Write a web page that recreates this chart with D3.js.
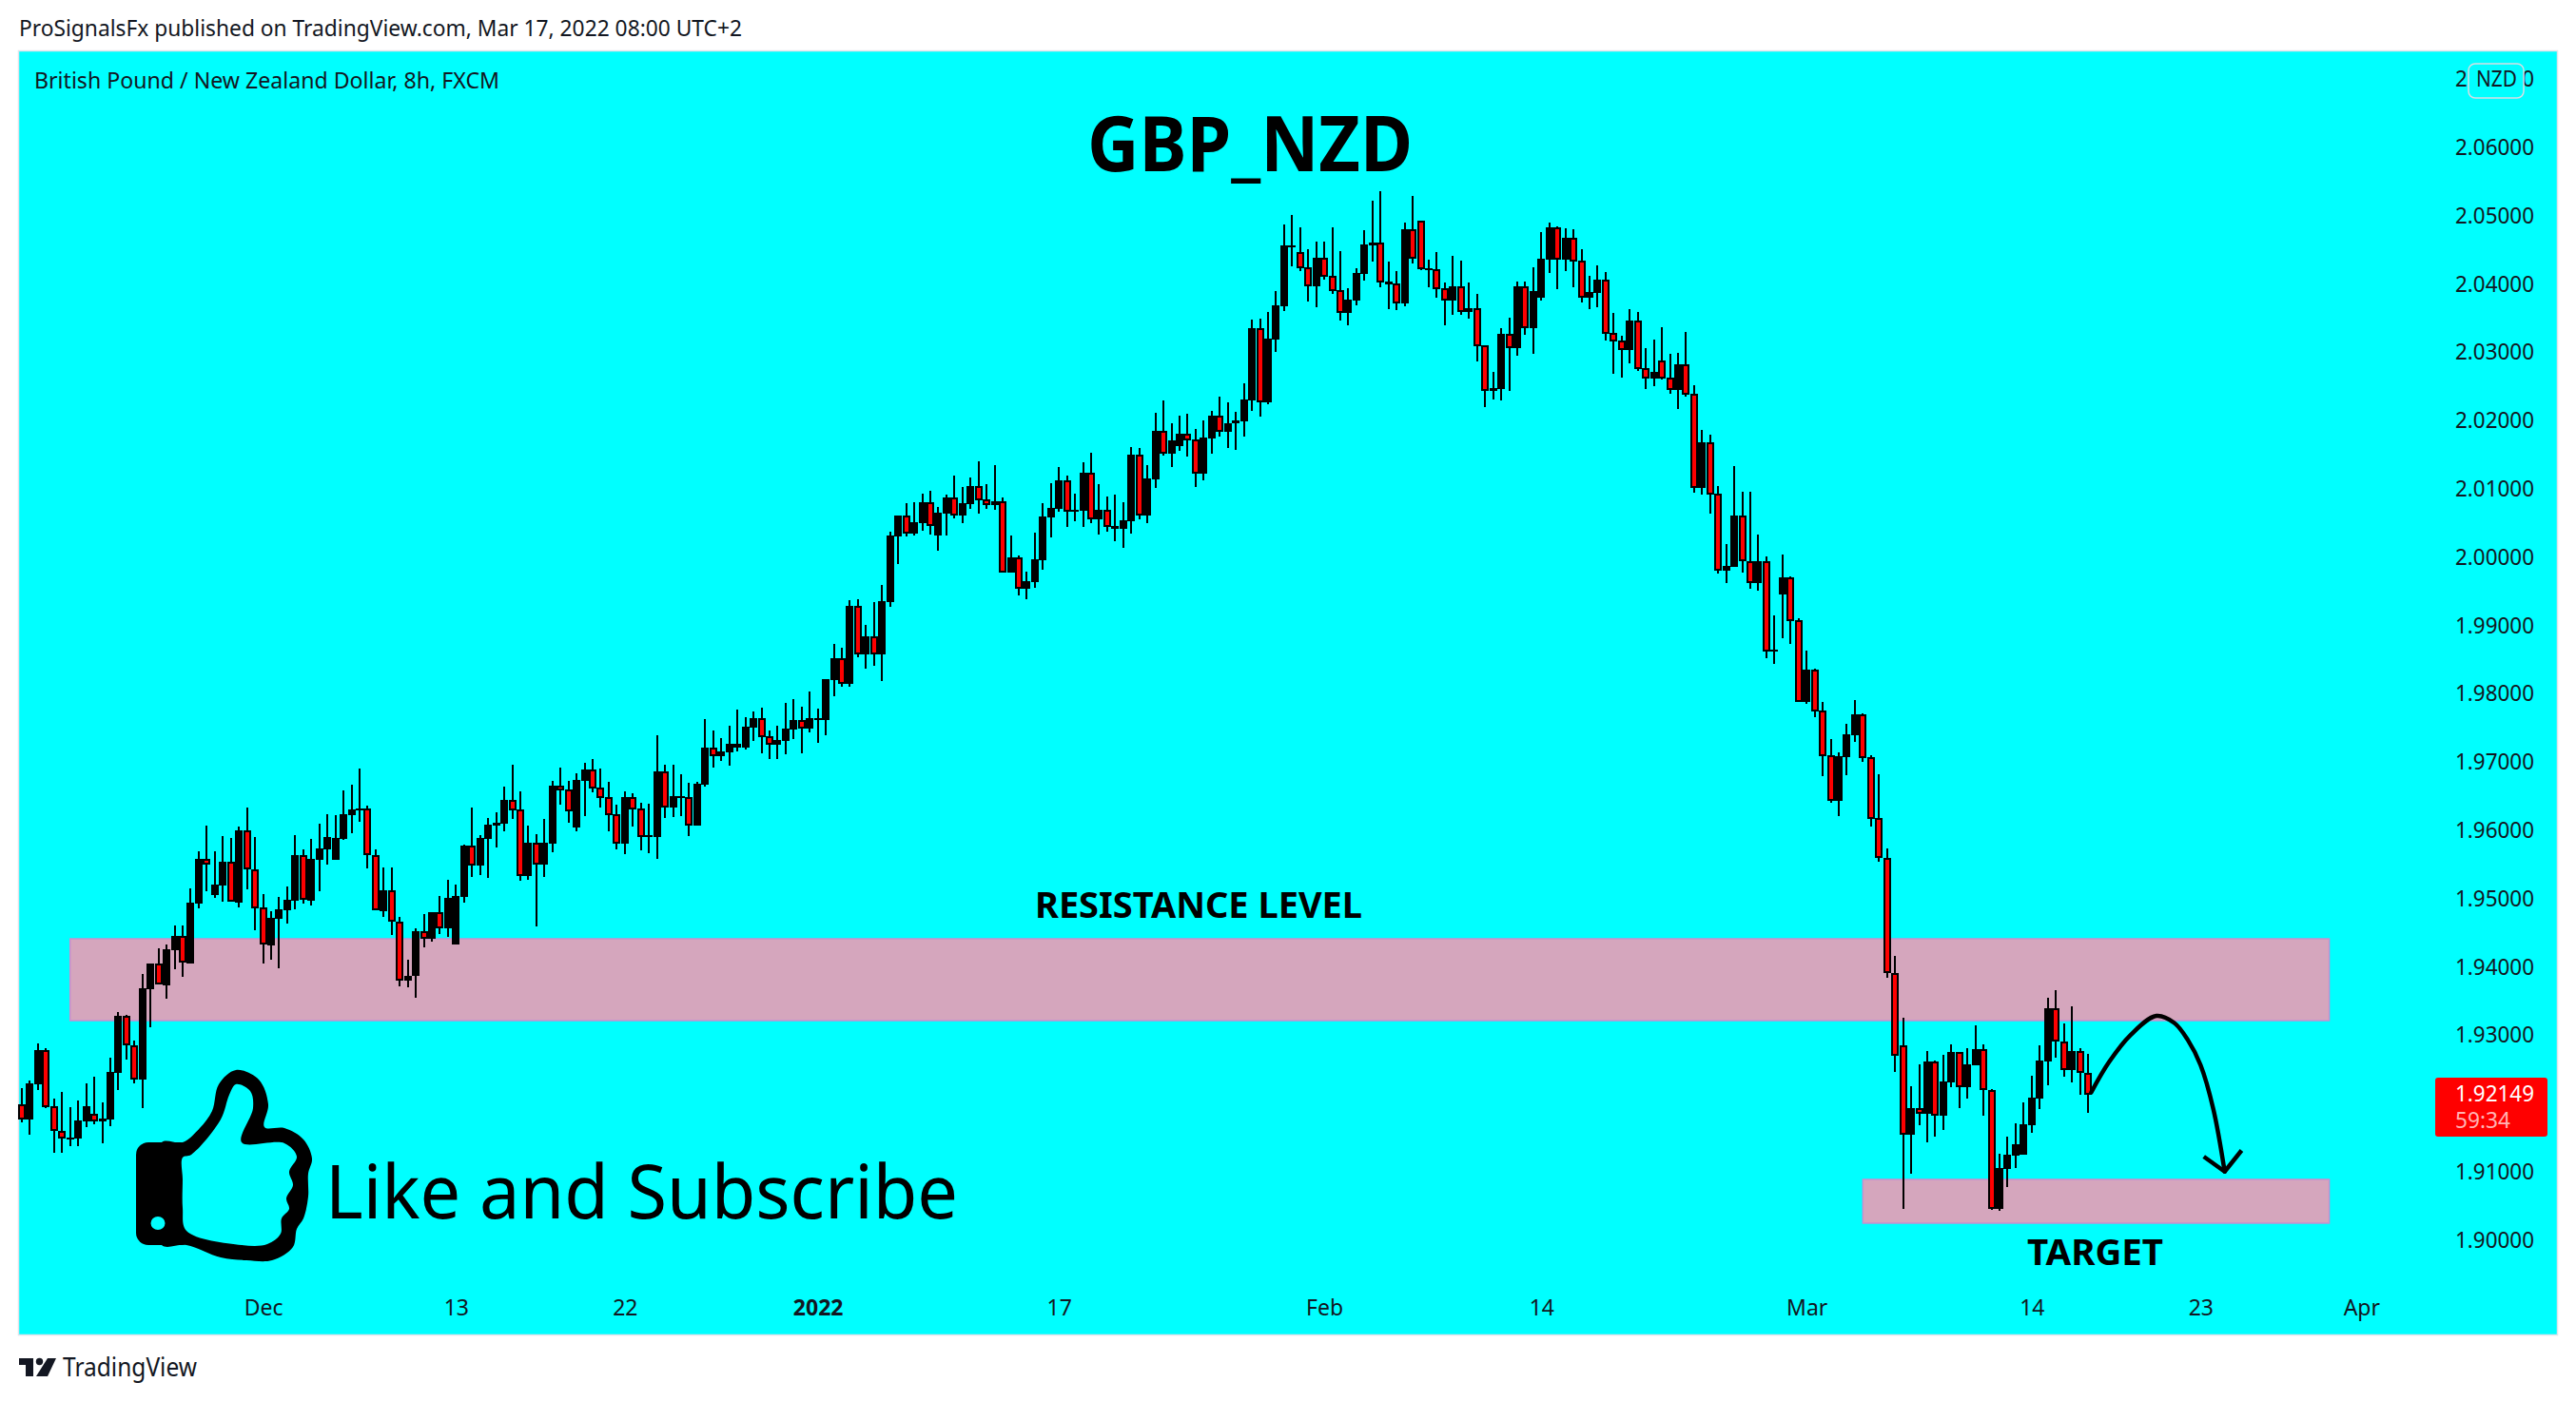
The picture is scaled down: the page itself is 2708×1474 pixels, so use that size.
<!DOCTYPE html>
<html><head><meta charset="utf-8">
<script src="https://cdn.jsdelivr.net/npm/d3@7"></script>
<style>html,body{margin:0;padding:0;background:#fff}svg{display:block}</style></head>
<body><svg id="c" width="2708" height="1474"></svg>
<script>
const opens=[
1.9201,1.9178,1.9230,1.9280,1.9198,1.9162,1.9150,1.9150,1.9175,1.9187,
1.9175,1.9178,1.9247,1.9330,1.9287,1.9237,1.9369,1.9407,1.9375,1.9426,
1.9447,1.9407,1.9494,1.9560,1.9507,1.9521,1.9556,1.9496,1.9602,1.9545,
1.9489,1.9433,1.9472,1.9485,1.9498,1.9565,1.9498,1.9558,1.9574,1.9558,
1.9589,1.9624,1.9632,1.9634,1.9565,1.9483,1.9514,1.9468,1.9381,1.9389,
1.9454,1.9443,1.9482,1.9458,1.9434,1.9504,1.9579,1.9550,1.9589,1.9609,
1.9611,1.9646,1.9632,1.9535,1.9584,1.9551,1.9582,1.9667,1.9661,1.9606,
1.9674,1.9690,1.9664,1.9650,1.9625,1.9582,1.9650,1.9634,1.9592,1.9592,
1.9688,1.9635,1.9649,1.9650,1.9609,1.9668,1.9723,1.9710,1.9716,1.9723,
1.9723,1.9752,1.9766,1.9739,1.9727,1.9732,1.9749,1.9763,1.9751,1.9763,
1.9763,1.9822,1.9854,1.9816,1.9930,1.9859,1.9886,1.9859,1.9936,2.0032,
2.0063,2.0036,2.0051,2.0082,2.0033,2.0065,2.0089,2.0063,2.0079,2.0106,
2.0086,2.0078,2.0083,1.9979,2.0001,1.9955,1.9965,1.9997,2.0060,2.0072,
2.0114,2.0068,2.0069,2.0125,2.0057,2.0071,2.0043,2.0043,2.0054,2.0152,
2.0063,2.0115,2.0187,2.0153,2.0164,2.0182,2.0174,2.0124,2.0175,2.0209,
2.0185,2.0197,2.0200,2.0231,2.0337,2.0228,2.0320,2.0369,2.0455,2.0448,
2.0426,2.0398,2.0440,2.0414,2.0393,2.0359,2.0377,2.0416,2.0458,2.0462,
2.0401,2.0402,2.0373,2.0482,2.0494,2.0422,2.0423,2.0395,2.0377,2.0398,
2.0361,2.0366,2.0312,2.0245,2.0248,2.0329,2.0307,2.0398,2.0337,2.0382,
2.0437,2.0485,2.0437,2.0469,2.0436,2.0382,2.0388,2.0408,2.0330,2.0319,
2.0305,2.0348,2.0278,2.0263,2.0289,2.0264,2.0246,2.0284,2.0241,2.0103,
2.0170,2.0095,1.9982,1.9987,2.0063,1.9996,1.9964,1.9996,1.9863,1.9947,
1.9972,1.9909,1.9790,1.9837,1.9777,1.9712,1.9645,1.9709,1.9741,1.9771,
1.9709,1.9620,1.9561,1.9393,1.9287,1.9156,1.9195,1.9187,1.9263,1.9184,
1.9233,1.9277,1.9226,1.9258,1.9281,1.9222,1.9047,1.9106,1.9125,1.9127,
1.9170,1.9209,1.9263,1.9341,1.9292,1.9251,1.9279,1.9247];
const highs=[
1.9224,1.9235,1.9290,1.9283,1.9209,1.9219,1.9196,1.9206,1.9231,1.9241,
1.9203,1.9269,1.9336,1.9331,1.9294,1.9391,1.9407,1.9429,1.9434,1.9462,
1.9462,1.9517,1.9571,1.9609,1.9571,1.9593,1.9590,1.9607,1.9635,1.9592,
1.9508,1.9483,1.9504,1.9519,1.9594,1.9574,1.9589,1.9611,1.9625,1.9624,
1.9660,1.9669,1.9692,1.9638,1.9574,1.9547,1.9547,1.9475,1.9412,1.9458,
1.9479,1.9482,1.9505,1.9529,1.9522,1.9581,1.9635,1.9594,1.9620,1.9628,
1.9666,1.9698,1.9659,1.9609,1.9596,1.9618,1.9674,1.9694,1.9674,1.9685,
1.9701,1.9706,1.9692,1.9673,1.9639,1.9659,1.9656,1.9642,1.9641,1.9741,
1.9698,1.9698,1.9684,1.9671,1.9673,1.9765,1.9748,1.9737,1.9755,1.9778,
1.9767,1.9776,1.9781,1.9748,1.9755,1.9788,1.9794,1.9783,1.9805,1.9780,
1.9823,1.9875,1.9869,1.9939,1.9940,1.9902,1.9936,1.9961,2.0039,2.0063,
2.0081,2.0082,2.0095,2.0099,2.0075,2.0093,2.0121,2.0104,2.0118,2.0142,
2.0108,2.0136,2.0089,2.0033,2.0004,1.9980,2.0037,2.0081,2.0110,2.0134,
2.0121,2.0095,2.0140,2.0154,2.0108,2.0090,2.0093,2.0082,2.0163,2.0161,
2.0136,2.0213,2.0231,2.0198,2.0209,2.0211,2.0189,2.0202,2.0216,2.0237,
2.0228,2.0214,2.0256,2.0350,2.0351,2.0361,2.0391,2.0489,2.0503,2.0485,
2.0452,2.0464,2.0464,2.0485,2.0450,2.0395,2.0425,2.0480,2.0523,2.0537,
2.0434,2.0420,2.0491,2.0530,2.0494,2.0437,2.0448,2.0404,2.0443,2.0436,
2.0404,2.0387,2.0312,2.0273,2.0337,2.0352,2.0405,2.0405,2.0426,2.0477,
2.0492,2.0486,2.0483,2.0482,2.0452,2.0414,2.0429,2.0419,2.0359,2.0326,
2.0365,2.0361,2.0307,2.0320,2.0338,2.0299,2.0301,2.0331,2.0253,2.0188,
2.0181,2.0106,2.0021,2.0135,2.0097,2.0097,2.0035,2.0003,1.9916,2.0005,
1.9973,1.9912,1.9865,1.9838,1.9790,1.9735,1.9716,1.9758,1.9792,1.9773,
1.9712,1.9684,1.9575,1.9418,1.9327,1.9227,1.9259,1.9279,1.9265,1.9273,
1.9288,1.9277,1.9283,1.9316,1.9288,1.9223,1.9128,1.9153,1.9173,1.9203,
1.9242,1.9287,1.9356,1.9368,1.9319,1.9344,1.9283,1.9274];
const lows=[
1.9174,1.9156,1.9222,1.9195,1.9129,1.9129,1.9139,1.9139,1.9167,1.9171,
1.9143,1.9168,1.9222,1.9266,1.9231,1.9195,1.9313,1.9376,1.9355,1.9398,
1.9387,1.9407,1.9487,1.9512,1.9503,1.9497,1.9497,1.9489,1.9515,1.9455,
1.9407,1.9412,1.9400,1.9465,1.9486,1.9494,1.9492,1.9512,1.9551,1.9558,
1.9587,1.9597,1.9614,1.9546,1.9485,1.9475,1.9448,1.9373,1.9372,1.9357,
1.9430,1.9439,1.9450,1.9446,1.9434,1.9496,1.9533,1.9536,1.9532,1.9577,
1.9600,1.9618,1.9528,1.9529,1.9461,1.9533,1.9570,1.9639,1.9613,1.9600,
1.9622,1.9657,1.9635,1.9600,1.9574,1.9567,1.9607,1.9572,1.9568,1.9560,
1.9620,1.9621,1.9622,1.9593,1.9609,1.9666,1.9694,1.9703,1.9696,1.9717,
1.9720,1.9732,1.9715,1.9706,1.9706,1.9713,1.9735,1.9715,1.9745,1.9730,
1.9741,1.9798,1.9812,1.9812,1.9855,1.9838,1.9843,1.9820,1.9929,1.9992,
2.0032,2.0033,2.0040,2.0035,2.0011,2.0033,2.0058,2.0051,2.0072,2.0065,
2.0072,2.0071,1.9979,1.9979,1.9945,1.9940,1.9957,1.9983,2.0030,2.0068,
2.0046,2.0054,2.0046,2.0051,2.0035,2.0039,2.0025,2.0015,2.0036,2.0057,
2.0051,2.0103,2.0150,2.0134,2.0157,2.0149,2.0104,2.0114,2.0153,2.0178,
2.0161,2.0159,2.0178,2.0216,2.0207,2.0226,2.0302,2.0362,2.0427,2.0420,
2.0376,2.0368,2.0408,2.0387,2.0348,2.0341,2.0370,2.0407,2.0434,2.0397,
2.0365,2.0363,2.0369,2.0432,2.0422,2.0397,2.0382,2.0341,2.0356,2.0356,
2.0351,2.0288,2.0221,2.0233,2.0231,2.0245,2.0297,2.0327,2.0299,2.0377,
2.0418,2.0394,2.0420,2.0397,2.0375,2.0365,2.0368,2.0319,2.0270,2.0264,
2.0285,2.0274,2.0248,2.0252,2.0262,2.0241,2.0218,2.0237,2.0096,2.0093,
2.0065,1.9978,1.9964,1.9987,1.9979,1.9955,1.9953,1.9854,1.9845,1.9883,
1.9875,1.9790,1.9787,1.9767,1.9681,1.9642,1.9622,1.9682,1.9731,1.9702,
1.9607,1.9556,1.9386,1.9248,1.9047,1.9099,1.9170,1.9145,1.9153,1.9163,
1.9226,1.9195,1.9209,1.9258,1.9184,1.9046,1.9045,1.9079,1.9107,1.9127,
1.9159,1.9194,1.9228,1.9269,1.9241,1.9233,1.9215,1.9188];
const closes=[
1.9178,1.9231,1.9280,1.9196,1.9162,1.9150,1.9152,1.9177,1.9198,1.9175,
1.9180,1.9248,1.9330,1.9287,1.9237,1.9370,1.9407,1.9376,1.9428,1.9447,
1.9408,1.9496,1.9560,1.9551,1.9522,1.9556,1.9497,1.9602,1.9545,1.9487,
1.9434,1.9474,1.9486,1.9500,1.9565,1.9500,1.9560,1.9575,1.9592,1.9590,
1.9625,1.9632,1.9634,1.9565,1.9485,1.9514,1.9468,1.9381,1.9389,1.9454,
1.9443,1.9482,1.9458,1.9503,1.9505,1.9579,1.9550,1.9590,1.9610,1.9613,
1.9646,1.9631,1.9535,1.9584,1.9551,1.9584,1.9667,1.9660,1.9629,1.9675,
1.9690,1.9663,1.9649,1.9624,1.9582,1.9650,1.9632,1.9592,1.9594,1.9688,
1.9635,1.9652,1.9652,1.9609,1.9670,1.9723,1.9710,1.9717,1.9728,1.9728,
1.9753,1.9766,1.9738,1.9727,1.9734,1.9751,1.9763,1.9751,1.9766,1.9766,
1.9823,1.9854,1.9816,1.9930,1.9859,1.9886,1.9859,1.9937,2.0033,2.0063,
2.0036,2.0053,2.0082,2.0047,2.0067,2.0089,2.0063,2.0081,2.0106,2.0085,
2.0078,2.0083,1.9979,2.0001,1.9955,1.9966,1.9998,2.0061,2.0074,2.0114,
2.0068,2.0071,2.0125,2.0057,2.0071,2.0046,2.0047,2.0056,2.0152,2.0063,
2.0117,2.0187,2.0153,2.0173,2.0182,2.0173,2.0124,2.0177,2.0209,2.0185,
2.0198,2.0202,2.0233,2.0337,2.0228,2.0322,2.0370,2.0458,2.0458,2.0425,
2.0398,2.0440,2.0412,2.0391,2.0359,2.0379,2.0418,2.0459,2.0462,2.0404,
2.0405,2.0373,2.0482,2.0439,2.0423,2.0425,2.0394,2.0377,2.0398,2.0361,
2.0366,2.0310,2.0245,2.0249,2.0329,2.0307,2.0398,2.0337,2.0391,2.0439,
2.0485,2.0437,2.0469,2.0434,2.0382,2.0390,2.0408,2.0329,2.0317,2.0305,
2.0348,2.0277,2.0263,2.0273,2.0263,2.0246,2.0284,2.0239,2.0103,2.0170,
2.0093,1.9982,1.9989,2.0063,1.9996,1.9964,1.9996,1.9863,1.9866,1.9972,
1.9908,1.9790,1.9837,1.9776,1.9710,1.9645,1.9710,1.9742,1.9771,1.9707,
1.9618,1.9561,1.9393,1.9272,1.9156,1.9195,1.9187,1.9263,1.9184,1.9234,
1.9277,1.9226,1.9259,1.9281,1.9222,1.9047,1.9107,1.9127,1.9142,1.9171,
1.9210,1.9265,1.9341,1.9292,1.9251,1.9279,1.9247,1.92149];

const priceTicks=[1.90,1.91,1.93,1.94,1.95,1.96,1.97,1.98,1.99,2.00,2.01,2.02,2.03,2.04,2.05,2.06,2.07];
const timeTickBars=[30,54,75,99,129,162,189,222,250,271,291];
const timeTickLabels=["Dec","13","22","2022","17","Feb","14","Mar","14","23","Apr"];
const zoneStartBar=[6.0,229];
const zoneEndBar=[287,287];
const zoneTop=[1.94428,1.90905];
const zoneBottom=[1.93231,1.90265];
const arrowBars=[257.4,259.6,262.3,265.5,267.7,269.4,271.0,272.6,274.0];
const arrowPrices=[1.9218,1.9262,1.9302,1.9330,1.9320,1.9295,1.9258,1.9193,1.9102];
const arrowHeadBars=[271.4,274.0,276.1];
const arrowHeadPrices=[1.9124,1.9102,1.9133];
const lastPrice="1.92149", countdown="59:34";

const FONT="'Noto Sans','Lato',sans-serif", INK="#131722";
const svg=d3.select("#c");
const x=d3.scaleLinear().domain([0,257]).range([23,2195]);
const y=d3.scaleLinear().domain([1.90,2.06]).range([1305,156]);

svg.append("rect").attr("x",19.5).attr("y",53.5).attr("width",2669).attr("height",1350).attr("fill","#00ffff").attr("stroke","#e0e3eb").attr("stroke-width",1.5);

function label(t,px,py,size,len,opts={}){
  return svg.append("text").attr("x",px).attr("y",py).attr("font-family",FONT).attr("font-size",size)
   .attr("font-weight",opts.w||400).attr("fill",opts.f||INK).attr("textLength",len).attr("lengthAdjust","spacingAndGlyphs").text(t);
}
label("ProSignalsFx published on TradingView.com, Mar 17, 2022 08:00 UTC+2",20,38,24,760);
label("British Pound / New Zealand Dollar, 8h, FXCM",36,93,24,489);

// zones
svg.append("g").selectAll("rect").data(zoneTop).join("rect")
 .attr("x",(d,i)=>x(zoneStartBar[i])).attr("width",(d,i)=>x(zoneEndBar[i])-x(zoneStartBar[i]))
 .attr("y",d=>y(d)).attr("height",(d,i)=>y(zoneBottom[i])-y(d))
 .attr("fill","#d5a6bd").attr("stroke","#c78fd0").attr("stroke-width",1.5);

// axes
const ay=d3.axisRight(y).tickValues(priceTicks).tickFormat(d3.format(".5f")).tickSize(0).tickPadding(0);
const gy=svg.append("g").attr("transform","translate(2581,-1)").call(ay);
gy.select(".domain").remove();
gy.selectAll("text").attr("font-family",FONT).attr("font-size",23).attr("fill",INK).attr("textLength",83).attr("lengthAdjust","spacingAndGlyphs").attr("x",0);

const ax=d3.axisBottom(x).tickValues(timeTickBars).tickFormat((d,i)=>timeTickLabels[i]).tickSize(0).tickPadding(0);
const gx=svg.append("g").attr("transform","translate(0,1365)").call(ax);
gx.select(".domain").remove();
gx.selectAll("text").attr("font-family",FONT).attr("font-size",23).attr("fill",INK)
  .attr("font-weight",d=>d===99?700:400).attr("dy","0.78em").attr("y",0);

// candles
const bars=d3.range(opens.length);
const cx=i=>Math.round(x(i));
const g=svg.append("g").attr("shape-rendering","crispEdges");
g.selectAll(".w").data(bars).join("rect").attr("class","w")
 .attr("x",i=>cx(i)-1).attr("width",2)
 .attr("y",i=>y(highs[i])).attr("height",i=>y(lows[i])-y(highs[i])).attr("fill","#000");
const top_=i=>Math.round(y(Math.max(opens[i],closes[i])));
const bot=i=>Math.round(y(Math.min(opens[i],closes[i])));
g.selectAll(".b").data(bars).join("rect").attr("class","b")
 .attr("x",i=>cx(i)-4).attr("width",8)
 .attr("y",top_).attr("height",i=>Math.max(2,bot(i)-top_(i))).attr("fill","#000");
g.selectAll(".r").data(bars.filter(i=>closes[i]<opens[i])).join("rect").attr("class","r")
 .attr("x",i=>cx(i)-2).attr("width",4)
 .attr("y",i=>top_(i)+2).attr("height",i=>Math.max(1,bot(i)-top_(i)-4)).attr("fill","#ff0000");

// curved arrow
svg.append("path").attr("d",d3.line().x(d=>x(d[0])).y(d=>y(d[1])).curve(d3.curveCatmullRom.alpha(.5))(arrowBars.map((b,i)=>[b,arrowPrices[i]])))
 .attr("fill","none").attr("stroke","#000").attr("stroke-width",4.5).attr("stroke-linecap","round");
svg.append("path").attr("d",d3.line().x(d=>x(d[0])).y(d=>y(d[1]))(arrowHeadBars.map((b,i)=>[b,arrowHeadPrices[i]])))
 .attr("fill","none").attr("stroke","#000").attr("stroke-width",4.5).attr("stroke-linejoin","round");

// annotations
label("GBP_NZD",1143,180,80,342,{w:700,f:"#000"});
label("RESISTANCE LEVEL",1088,965,38,344,{w:700,f:"#000"});
label("TARGET",2131,1330,38,143,{w:700,f:"#000"});
label("Like and Subscribe",342,1281,78,665,{f:"#000"});

// thumb icon (decorative): cuff, then hand outline, then cut-out
const thumbOuter=[[170,1201],[192,1201],[210,1186],[223,1168],[230,1140],[248,1125],[272,1135],[282,1161],[278,1185],[299,1186],[319,1198],[328,1218],[324,1234],[324,1258],[319,1281],[312,1292],[308,1311],[286,1325],[259,1325],[232,1322],[196,1309],[170,1309],[165,1255]];
const thumbInner=[[192,1217],[201,1214],[232,1177],[241,1151],[248,1140],[263,1147],[266,1165],[254,1201],[299,1202],[312,1216],[304,1232],[308,1246],[301,1260],[304,1271],[296,1281],[295,1297],[281,1308],[254,1309],[196,1294],[192,1270],[192,1240]];
const closed=d3.line().curve(d3.curveCatmullRomClosed.alpha(.5));
svg.append("rect").attr("x",143).attr("y",1201).attr("width",60).attr("height",108).attr("rx",13).attr("fill","#000");
svg.append("path").attr("d",closed(thumbOuter)).attr("fill","#000");
svg.append("path").attr("d",closed(thumbInner)).attr("fill","#00ffff");
svg.append("ellipse").attr("cx",166).attr("cy",1286).attr("rx",7.5).attr("ry",7).attr("fill","#00ffff");

// NZD tag
svg.append("rect").attr("x",2595).attr("y",67).attr("width",58).attr("height",36).attr("rx",7).attr("fill","#00ffff").attr("stroke","#d9dde3").attr("stroke-width",1.5);
label("NZD",2603,91,23,43);

// last price tag
svg.append("rect").attr("x",2560).attr("y",1133).attr("width",118).attr("height",62).attr("rx",3).attr("fill","#ff0000");
label(lastPrice,2581,1158,23,83,{f:"#ffffff"});
label(countdown,2581,1186,23,58,{f:"#ffb3b3"});

// footer logo
const logo=svg.append("g").attr("fill",INK);
logo.append("path").attr("d","M20 1428H35V1447H27V1435H20Z");
logo.append("circle").attr("cx",41.5).attr("cy",1431.5).attr("r",3.7);
logo.append("path").attr("d","M50 1428H59L50 1447H38Z");
label("TradingView",66,1447,27,141);
</script></body></html>
